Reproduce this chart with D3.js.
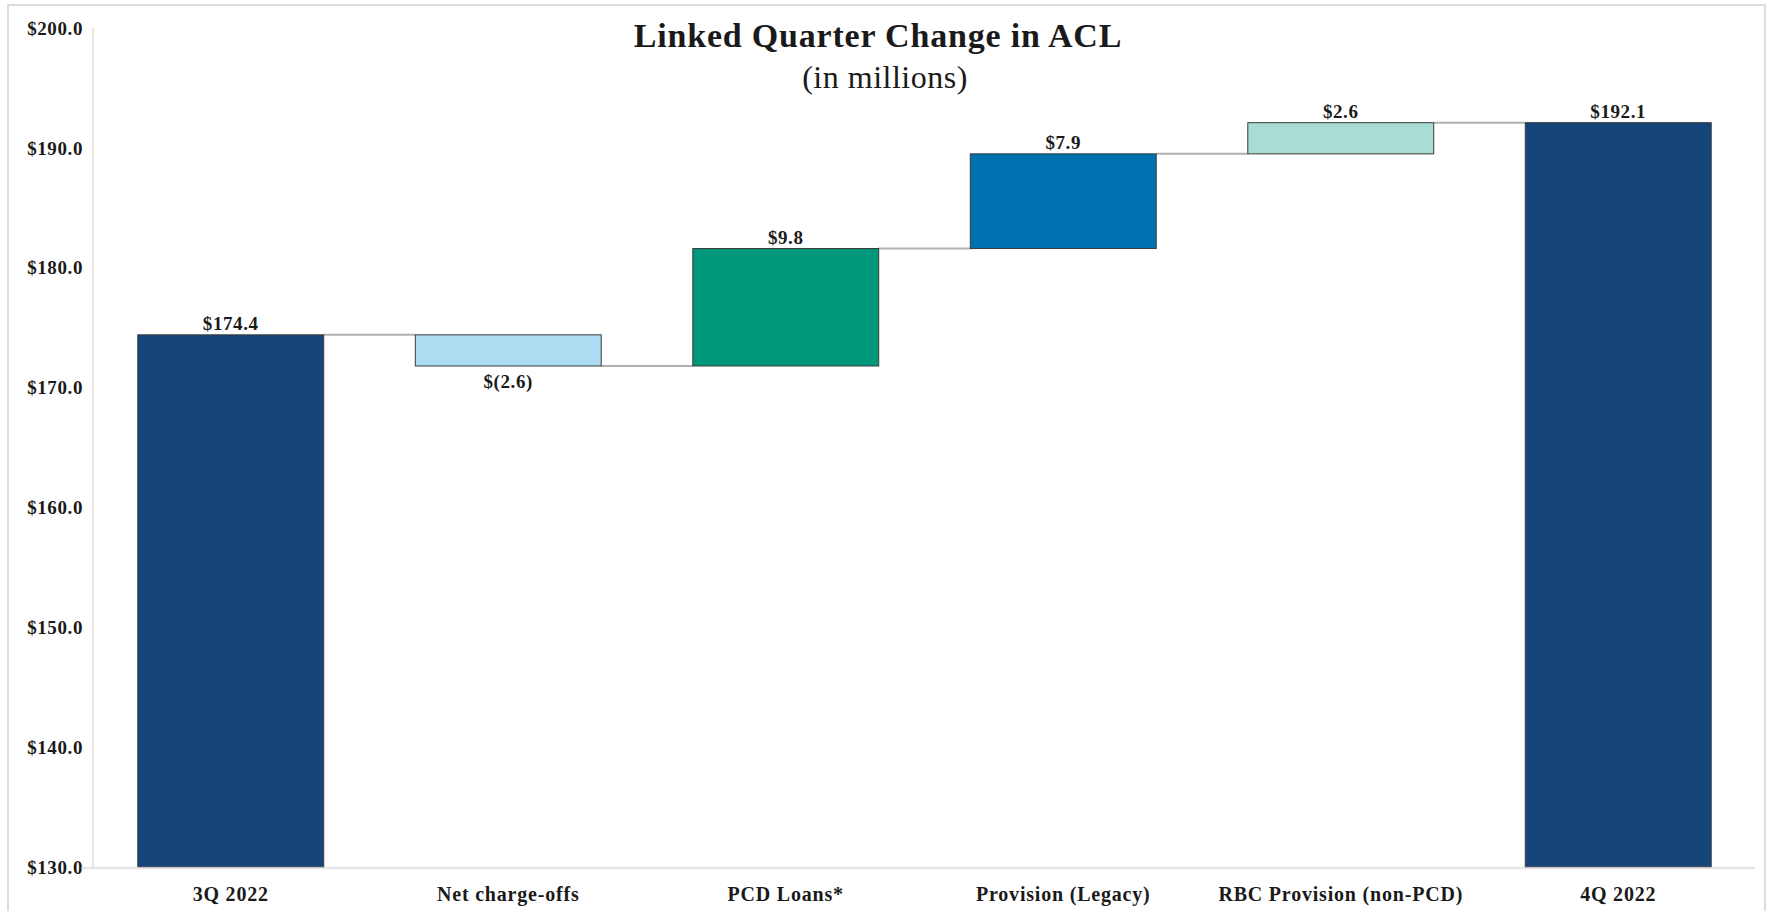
<!DOCTYPE html>
<html>
<head>
<meta charset="utf-8">
<script src="https://cdnjs.cloudflare.com/ajax/libs/d3/7.8.5/d3.min.js"></script>
<style>
  body { margin: 0; background: #fff; }
  svg text { font-family: "Liberation Serif", "Times New Roman", serif; fill: #1a1a1a; }
</style>
</head>
<body>
<div id="chart-area"></div>
<script>
// Linked Quarter Change in ACL - waterfall

var categories = ["3Q 2022", "Net charge-offs", "PCD Loans*", "Provision (Legacy)", "RBC Provision (non-PCD)", "4Q 2022"];
var amounts = [174.4, -2.6, 9.8, 7.9, 2.6, 192.1];
var isTotal = [true, false, false, false, false, true];
var barColors = ["#16457a", "#addcf2", "#00977a", "#0071b0", "#a9dcd4", "#16457a"];
var yTicks = [130, 140, 150, 160, 170, 180, 190, 200];

var W = 1769, H = 911;

var svg = d3.select("#chart-area")
    .append("svg")
    .attr("width", W)
    .attr("height", H);

// outer frame
svg.append("rect")
    .attr("x", 8).attr("y", 5)
    .attr("width", 1757).attr("height", H + 10)
    .attr("fill", "none")
    .attr("stroke", "#dcdcdc")
    .attr("stroke-width", 2);

var x = d3.scaleBand()
    .domain(categories)
    .range([92, 1757])
    .paddingInner(0.33)
    .paddingOuter(0.165);

var y = d3.scaleLinear()
    .domain([130, 200])
    .range([867, 28]);

// build running waterfall rows
var rows = [];
var running = 0;
categories.forEach(function(c, i) {
    var start, end;
    if (isTotal[i]) {
        start = y.domain()[0];
        end = amounts[i];
        running = amounts[i];
    } else {
        start = running;
        end = running + amounts[i];
        running = end;
    }
    rows.push({ cat: c, value: amounts[i], start: start, end: end, total: isTotal[i], color: barColors[i] });
});

// y axis line + tick labels
svg.append("line")
    .attr("x1", 93).attr("x2", 93)
    .attr("y1", y(200)).attr("y2", y(130))
    .attr("stroke", "#dedede")
    .attr("stroke-width", 1.5);

svg.selectAll(".ytick")
    .data(yTicks)
    .enter().append("text")
    .attr("class", "ytick")
    .attr("x", 83)
    .attr("y", function(d) { return y(d); })
    .attr("dy", "0.35em")
    .attr("text-anchor", "end")
    .attr("font-size", "19px")
    .attr("font-weight", "bold")
    .attr("letter-spacing", "0.6px")
    .text(function(d) { return "$" + d.toFixed(1); });

// connectors
for (var i = 0; i < rows.length - 1; i++) {
    svg.append("line")
        .attr("x1", x(rows[i].cat) + x.bandwidth())
        .attr("x2", x(rows[i + 1].cat))
        .attr("y1", y(rows[i].end))
        .attr("y2", y(rows[i].end))
        .attr("stroke", "#b0b0b0")
        .attr("stroke-width", 2);
}

// bars
svg.selectAll(".bar")
    .data(rows)
    .enter().append("rect")
    .attr("class", "bar")
    .attr("x", function(d) { return x(d.cat); })
    .attr("width", x.bandwidth())
    .attr("y", function(d) { return y(Math.max(d.start, d.end)); })
    .attr("height", function(d) { return Math.abs(y(d.start) - y(d.end)); })
    .attr("fill", function(d) { return d.color; })
    .attr("stroke", "#3a3a3a")
    .attr("stroke-width", 1);

// baseline drawn over bars
svg.append("line")
    .attr("x1", 81).attr("x2", 1755)
    .attr("y1", 868).attr("y2", 868)
    .attr("stroke", "#d6d6d6")
    .attr("stroke-opacity", 0.6)
    .attr("stroke-width", 2.5);

// value labels
function fmt(d) {
    if (d.value < 0) return "$(" + Math.abs(d.value).toFixed(1) + ")";
    return "$" + d.value.toFixed(1);
}
svg.selectAll(".vlabel")
    .data(rows)
    .enter().append("text")
    .attr("class", "vlabel")
    .attr("x", function(d) { return x(d.cat) + x.bandwidth() / 2; })
    .attr("y", function(d) {
        return d.value < 0 ? y(d.end) + 22 : y(Math.max(d.start, d.end)) - 5;
    })
    .attr("text-anchor", "middle")
    .attr("font-size", "19px")
    .attr("font-weight", "bold")
    .attr("letter-spacing", "0.6px")
    .text(fmt);

// category labels
svg.selectAll(".xlabel")
    .data(categories)
    .enter().append("text")
    .attr("class", "xlabel")
    .attr("x", function(d) { return x(d) + x.bandwidth() / 2; })
    .attr("y", 901)
    .attr("text-anchor", "middle")
    .attr("font-size", "20px")
    .attr("font-weight", "bold")
    .attr("letter-spacing", "0.8px")
    .text(function(d) { return d; });

// title
svg.append("text")
    .attr("x", 878).attr("y", 47)
    .attr("text-anchor", "middle")
    .attr("font-size", "34px")
    .attr("font-weight", "bold")
    .attr("letter-spacing", "0.8px")
    .text("Linked Quarter Change in ACL");
svg.append("text")
    .attr("x", 885).attr("y", 88)
    .attr("text-anchor", "middle")
    .attr("font-size", "32px")
    .attr("letter-spacing", "0.5px")
    .text("(in millions)");
</script>
</body>
</html>
